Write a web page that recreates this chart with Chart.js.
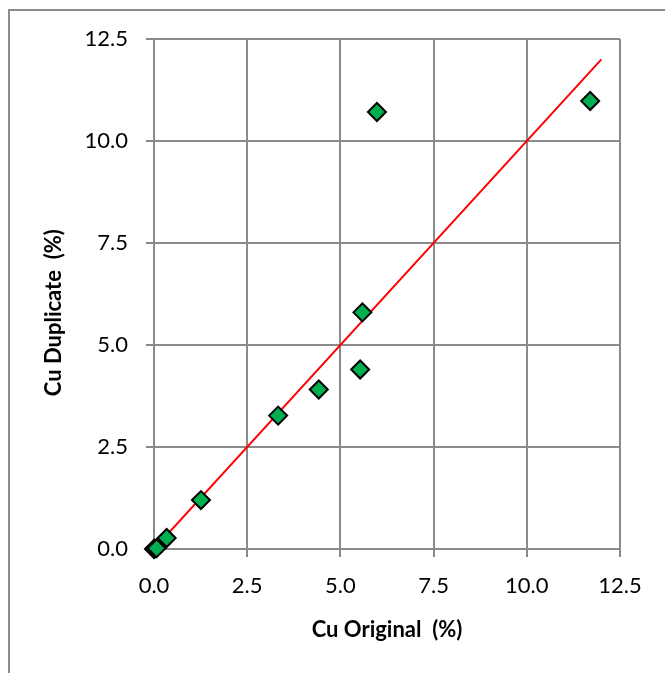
<!DOCTYPE html>
<html>
<head>
<meta charset="utf-8">
<script src="https://cdn.jsdelivr.net/npm/chart.js@4/dist/chart.umd.min.js"></script>
<style>
  html, body { margin: 0; padding: 0; background: #fff; }
  #wrap { position: relative; width: 665px; height: 673px; overflow: hidden; }
  #frame { position: absolute; left: 8px; top: 9px; width: 800px; height: 800px; border: 2px solid #8c8c8c; }
  #chart { position: absolute; left: 0; top: 0; }
</style>
</head>
<body>
<div id="wrap">
  <div id="frame"></div>
  <canvas id="chart" width="665" height="673"></canvas>
</div>
<script>
// duplicate check samples, Cu %
const cuOriginal  = [0.00, 0.02, 0.07, 0.34, 1.26, 3.33, 4.42, 5.53, 5.59, 5.98, 11.70];
const cuDuplicate = [0.00, 0.01, 0.02, 0.27, 1.20, 3.27, 3.91, 4.40, 5.80, 10.71, 10.98];

// 1:1 reference line
const lineX = [0, 12];
const lineY = [0, 12];

const tickValues = [0, 2.5, 5, 7.5, 10, 12.5];

const GRID = "#8a8a8a";
const FONT = "Lato";

const points = cuOriginal.map((x, i) => ({ x, y: cuDuplicate[i] }));
const linePts = lineX.map((x, i) => ({ x, y: lineY[i] }));

function axis(titleText, isX) {
  return {
    type: "linear",
    min: 0,
    max: 12.5,
    afterBuildTicks: (s) => { s.ticks = tickValues.map(v => ({ value: v })); },
    afterFit: (s) => { if (isX) s.height = 124; else s.width = 154; },
    grid: { color: GRID, lineWidth: 2, tickLength: 8, tickColor: GRID },
    border: { color: GRID, width: 2 },
    ticks: {
      color: "#000",
      font: { family: FONT, size: 22 },
      padding: isX ? 16 : 18,
      callback: (v) => Number(v).toFixed(1)
    },
    title: {
      display: true,
      text: titleText,
      color: "#000",
      font: { family: FONT, size: 22, weight: "bold" },
      padding: isX ? { top: 0, bottom: 30 } : { top: 41, bottom: 0 }
    }
  };
}

new Chart(document.getElementById("chart"), {
  type: "scatter",
  data: {
    datasets: [
      {
        label: "Cu",
        data: points,
        order: 0,
        clip: false,
        pointStyle: "rectRot",
        pointRadius: 9,
        pointHoverRadius: 9,
        backgroundColor: "#00b050",
        borderColor: "#000",
        borderWidth: 2
      },
      {
        label: "1:1",
        data: linePts,
        order: 1,
        showLine: true,
        pointRadius: 0,
        borderColor: "#ff0000",
        borderWidth: 2
      }
    ]
  },
  options: {
    responsive: false,
    animation: false,
    layout: { padding: { left: 0, top: 39, right: 45, bottom: 0 } },
    plugins: { legend: { display: false }, tooltip: { enabled: false } },
    scales: {
      x: axis("Cu Original  (%)", true),
      y: axis("Cu Duplicate  (%)       ", false)
    }
  }
});
</script>
</body>
</html>
